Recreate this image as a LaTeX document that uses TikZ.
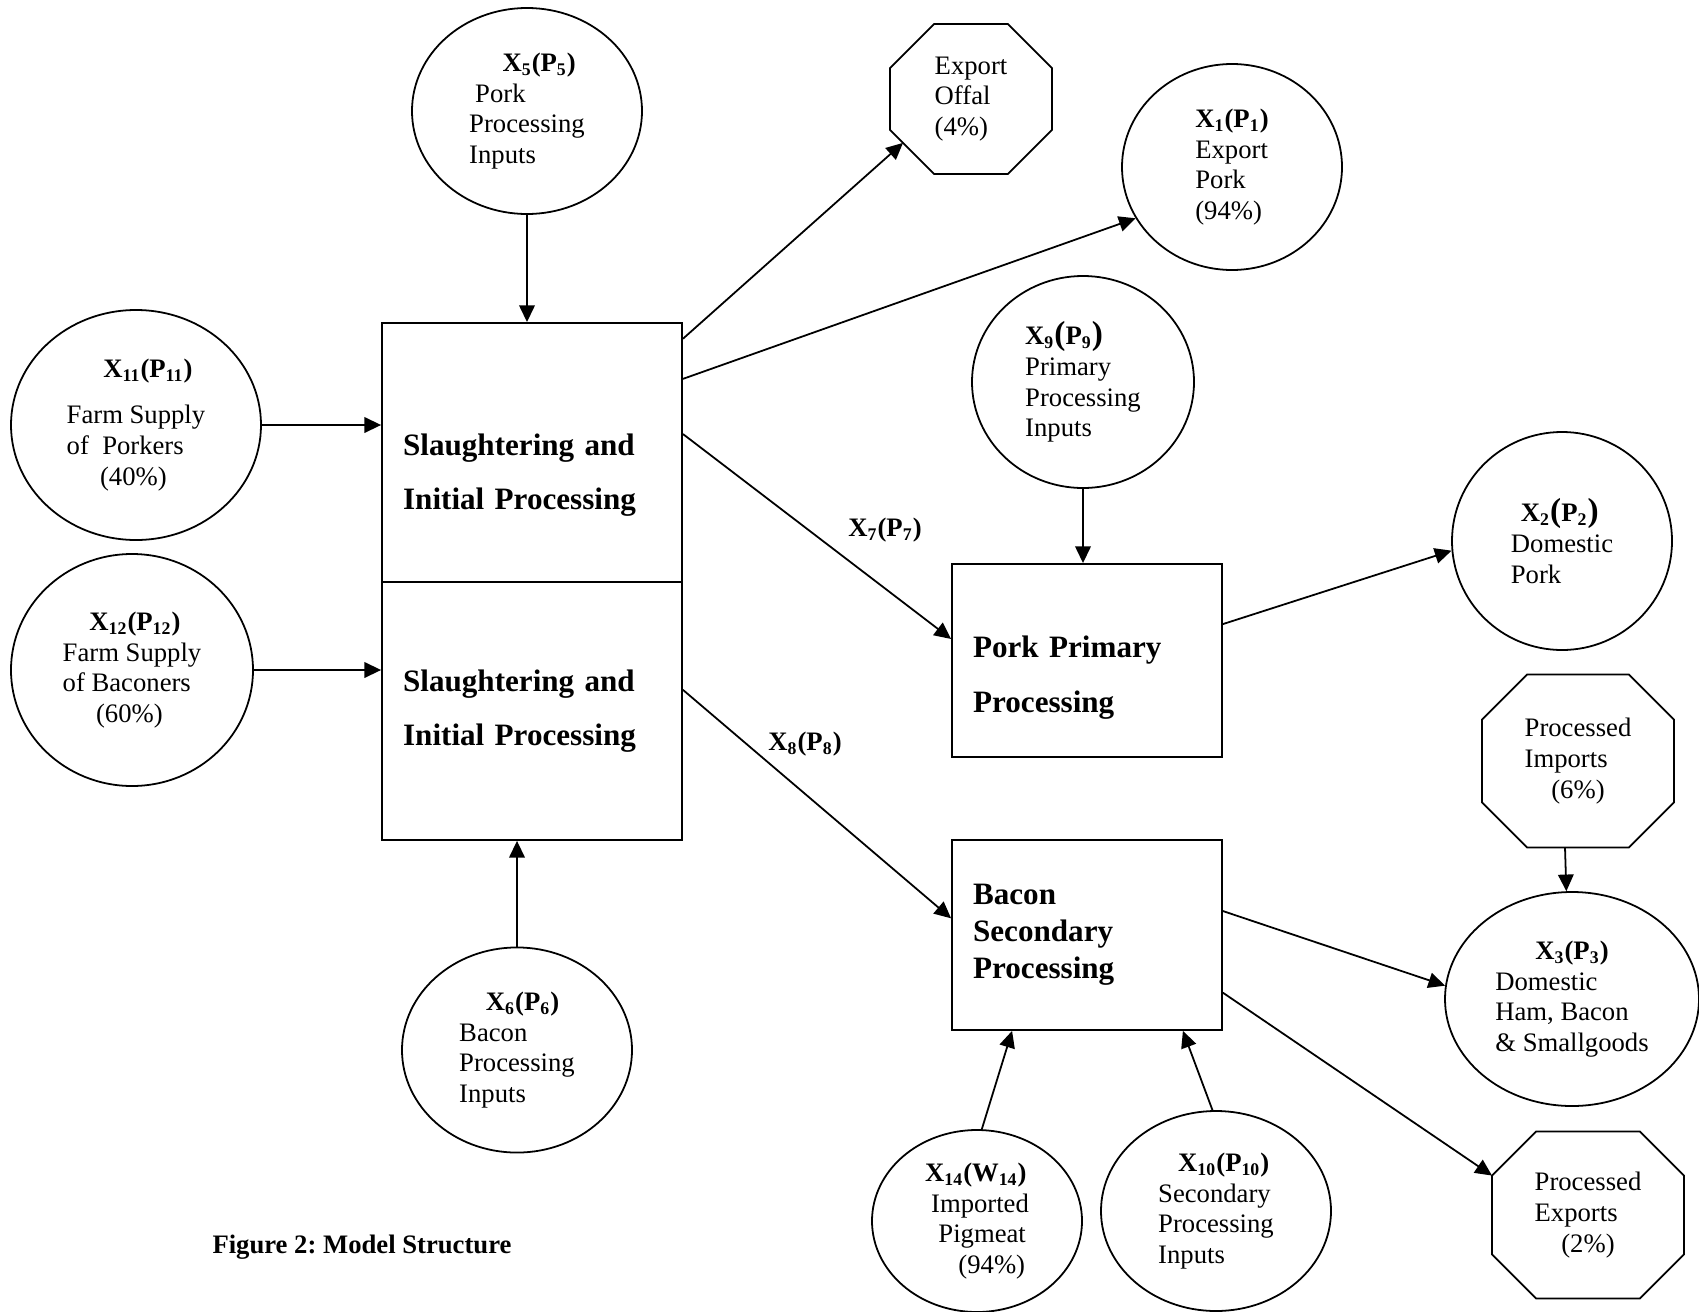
\documentclass[tikz,border=0pt]{standalone}
\usepackage{fontspec}
\setmainfont{Liberation Serif}
\usetikzlibrary{shapes.geometric,arrows.meta,calc}
\frenchspacing

\newcommand{\xp}[2]{\textbf{X\textsubscript{#1}(P\textsubscript{#2})}}
\newcommand{\bigxp}[2]{\textbf{X\textsubscript{#1}{\fontsize{15}{14}\selectfont(}P\textsubscript{#2}{\fontsize{15}{14}\selectfont)}}}
% octagon round a trade node: name, corner cut
\newcommand{\octagon}[2]{%
  \draw[line width=0.8pt] ($(#1.north west)+(#2,0)$) -- ($(#1.north east)+(-#2,0)$)
    -- ($(#1.north east)+(0,#2)$) -- ($(#1.south east)+(0,-#2)$)
    -- ($(#1.south east)+(-#2,0)$) -- ($(#1.south west)+(#2,0)$)
    -- ($(#1.south west)+(0,-#2)$) -- ($(#1.north west)+(0,#2)$) -- cycle;}

\begin{document}
\begin{tikzpicture}[x=0.45pt,y=-0.45pt,
   every node/.style={font=\fontsize{12}{13.8}\selectfont},
   input/.style={ellipse,draw,line width=0.8pt,inner sep=0pt,align=left},
   trade/.style={rectangle,inner sep=0pt,align=left},
   stage/.style={rectangle,draw,line width=0.8pt,inner xsep=9.5pt,align=left,
      font=\bfseries\fontsize{14}{16.6}\selectfont},
   flow/.style={-{Triangle[length=7.5pt,width=7pt]},line width=0.8pt}]
\useasboundingbox (0,0) rectangle (1699,1312);

% slaughtering stage
\node[stage,text width=116pt,minimum height=116.6pt] (st) at (532,452.5)
  {\rule{0pt}{30pt}Slaughtering and\\[8pt]Initial Processing};
\node[stage,text width=116pt,minimum height=116.1pt] (sb) at (532,711)
  {Slaughtering and\\[8pt]Initial Processing};

% farm and processing inputs
\node[input,minimum width=103.5pt,minimum height=92.7pt] (x5) at (527,111)
  {\hspace*{15pt}\xp{5}{5}\\\hspace*{2.7pt}Pork\\Processing\\Inputs};
\node[input,minimum width=112.5pt,minimum height=103.5pt] (x11) at (136,425)
  {\hspace*{16.5pt}\xp{11}{11}\\[7pt]Farm Supply\\of\ \ Porkers\\\hspace*{15pt}(40\%)};
\node[input,minimum width=108.9pt,minimum height=104.4pt] (x12) at (132,670)
  {\hspace*{12pt}\xp{12}{12}\\Farm Supply\\of Baconers\\\hspace*{15pt}(60\%)};
\node[input,minimum width=103.5pt,minimum height=92.3pt] (x6) at (517,1050)
  {\hspace*{12pt}\xp{6}{6}\\Bacon\\Processing\\Inputs};

% exports from slaughtering
\node[trade,minimum width=72.5pt,minimum height=67pt] (offal) at (971,99)
  {Export\\Offal\\(4\%)};
\octagon{offal}{44}
\node[input,minimum width=99pt,minimum height=92.7pt] (x1) at (1232,167)
  {\xp{1}{1}\\Export\\Pork\\(94\%)};

% primary processing
\node[input,minimum width=99.9pt,minimum height=95.4pt] (x9) at (1083,382)
  {\bigxp{9}{9}\\Primary\\Processing\\Inputs};
\node[stage,text width=102.5pt,minimum height=86.9pt] (pork) at (1087,660.5)
  {\rule{0pt}{25pt}Pork Primary\\[8pt]Processing};
\node[input,minimum width=99pt,minimum height=98.1pt] (x2) at (1562,541)
  {\hspace*{4.5pt}\bigxp{2}{2}\\Domestic\\Pork};

% secondary processing
\node[stage,text width=102.5pt,minimum height=85.5pt] (bacon) at (1087,935)
  {Bacon\\Secondary\\Processing};
\node[trade,minimum width=86pt,minimum height=77.4pt] (imp) at (1578,761)
  {Processed\\Imports\\\hspace*{12pt}(6\%)};
\octagon{imp}{45}
\node[input,minimum width=114.3pt,minimum height=96.3pt] (x3) at (1572,999)
  {\hspace*{18pt}\xp{3}{3}\\Domestic\\Ham, Bacon\\\& Smallgoods};
\node[trade,minimum width=86pt,minimum height=74.7pt] (exp) at (1588,1215)
  {Processed\\Exports\\\hspace*{12pt}(2\%)};
\octagon{exp}{44}
\node[input,minimum width=94.5pt,minimum height=81.9pt] (x14) at (977,1221)
  {\textbf{X\textsubscript{14}(W\textsubscript{14})}\\\hspace*{2.7pt}Imported\\\hspace*{6pt}Pigmeat\\\hspace*{15pt}(94\%)};
\node[input,minimum width=103.5pt,minimum height=90pt] (x10) at (1216,1211)
  {\hspace*{9pt}\xp{10}{10}\\Secondary\\Processing\\Inputs};

% flow labels and caption
\node (x7lab) at (885,530) {\xp{7}{7}};
\node (x8lab) at (805,744) {\xp{8}{8}};
\node (caption) at (362,1247) {\textbf{Figure 2: Model Structure}};

% flows into slaughtering
\draw[flow] (x5.south) -- (x5.south |- st.north);
\draw[flow] (x11.east) -- (x11.east -| st.west);
\draw[flow] (x12.east) -- (x12.east -| sb.west);
\draw[flow] (x6.north) -- (x6.north |- sb.south);

% flows out of slaughtering
\draw[flow] (st.37.6) -- ($(offal.south west)+(13,-31)$);
\draw[flow] (st.26.7) -- (x1.208.4);
\draw[flow] (st.7.8) -- (pork.171.4);
\draw[flow] (sb.8.7) -- (bacon.173.3);

% processing flows
\draw[flow] (x9.south) -- (x9.south |- pork.north);
\draw[flow] (pork.15.9) -- (x2.185.7);
\draw[flow] ($(imp.south)+(-13,0)$) -- (x3.93.7);
\draw[flow] (bacon.10.9) -- (x3.174.6);
\draw[flow] (bacon.337.8) -- ($(exp.north west)+(0,44)$);
\draw[flow] (x14.87) -- (bacon.232);
\draw[flow] (x10.92.9) -- (bacon.315.6);
\end{tikzpicture}
\end{document}
